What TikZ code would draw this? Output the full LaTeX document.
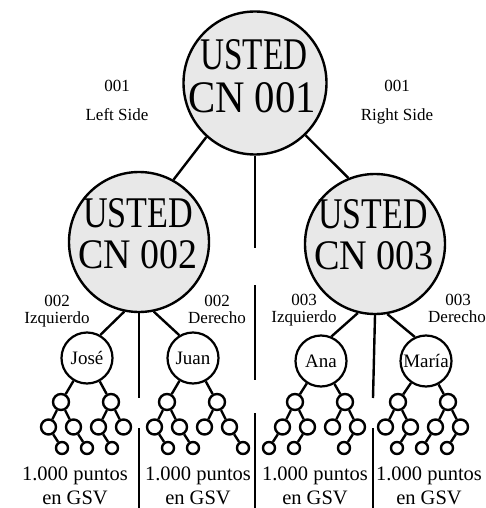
\documentclass[tikz,border=0pt]{standalone}
\usepackage{fontspec}
\setmainfont{Liberation Serif}
\usepackage{graphicx}
\newcommand\bt[3]{\resizebox{#1pt}{#2pt}{\fontsize{40}{40}\selectfont #3}}
\newcommand\treeicon[5]{%
  \node[lone] (#1-a) at ({#3-25},402) {};
  \node[lone] (#1-b) at ({#3+25},402) {};
  \node[ltwo] (#1-c1) at ({#3-37.5},427) {};
  \node[ltwo] (#1-c2) at ({#3-12.5},427) {};
  \node[ltwo] (#1-c3) at ({#3+12.5},427) {};
  \node[ltwo] (#1-c4) at ({#3+37.5},427) {};
  \draw[tconn] (#2) -- (#1-a);
  \draw[tconn] (#2) -- (#1-b);
  \draw[tconn] (#1-a) -- (#1-c1);
  \draw[tconn] (#1-a) -- (#1-c2);
  \draw[tconn] (#1-b) -- (#1-c3);
  \draw[tconn] (#1-b) -- (#1-c4);
  \foreach \k in {#5} {
    \path (#1-c\k) ++(#4,21) node[lthree] (#1-d\k) {};
    \draw[tconn] (#1-c\k) -- (#1-d\k);
  }%
}
\begin{document}
\begin{tikzpicture}[x=1pt,y=-1pt,
  big/.style={circle,draw,line width=2.4pt,fill=gray!18,minimum size=140pt,inner sep=0pt},
  person/.style={circle,draw,line width=2.2pt,fill=white,minimum size=51pt,inner sep=0pt,font=\fontsize{19}{19}\selectfont},
  lone/.style={circle,draw,line width=2.4pt,minimum size=16pt,inner sep=0pt},
  ltwo/.style={circle,draw,line width=2.4pt,minimum size=15pt,inner sep=0pt},
  lthree/.style={circle,draw,line width=2.4pt,minimum size=12pt,inner sep=0pt},
  conn/.style={line width=2.4pt},
  tconn/.style={line width=2.4pt},
  lab/.style={font=\fontsize{17}{17}\selectfont, inner sep=0pt, anchor=base},
  bigtxt/.style={inner sep=0pt, anchor=base},
  foot/.style={font=\fontsize{20.5}{20.5}\selectfont, inner sep=0pt, anchor=base}
]
\useasboundingbox (0,0) rectangle (485,508);

% main circles
\node[big,minimum size=143pt] (top) at (255,83) {};
\node[big] (n2) at (139,242) {};
\node[big] (n3) at (375,244) {};

\node[bigtxt] (t1a) at (254,70) {\bt{107}{30}{USTED}};
\node[bigtxt] (t1b) at (252,113) {\bt{128}{30}{CN 001}};
\node[bigtxt] (t2a) at (138,227) {\bt{110}{29}{USTED}};
\node[bigtxt] (t2b) at (138,268) {\bt{119}{28}{CN 002}};
\node[bigtxt] (t3a) at (373,228) {\bt{109}{29}{USTED}};
\node[bigtxt] (t3b) at (374,269) {\bt{120}{28}{CN 003}};

% connectors top level
\draw[conn] (top.228) -- (n2.61);
\draw[conn] (top.314) -- (n3.112);
\coordinate (m1) at (255,248);
\coordinate (m2) at (255,285);
\coordinate (m3) at (255,380);
\coordinate (m4) at (255,413);
\coordinate (m5) at (255,508);
\draw[conn] (top.south) -- (m1);
\draw[conn] (m2) -- (m3);
\draw[conn] (m4) -- (m5);

% labels
\node[lab] (l1a) at (117,92) {001};
\node[lab] (l1b) at (117,121) {Left Side};
\node[lab] (r1a) at (397,92) {001};
\node[lab] (r1b) at (397,121) {Right Side};
\node[lab] (l2a) at (57,306) {002};
\node[lab] (l2b) at (57,323) {Izquierdo};
\node[lab] (r2a) at (217,306) {002};
\node[lab] (r2b) at (217,323) {Derecho};
\node[lab] (l3a) at (304,305) {003};
\node[lab] (l3b) at (304,322) {Izquierdo};
\node[lab] (r3a) at (458,305) {003};
\node[lab] (r3b) at (457,322) {Derecho};

% persons
\node[person] (jose) at (87,358) {José};
\node[person] (juan) at (193,358) {Juan};
\node[person] (ana) at (321,361) {Ana};
\node[person] (maria) at (426,361) {María};

\draw[conn] (n2.258) -- (jose.60);
\draw[conn] (n2.282) -- (juan.121);
\draw[conn] (n3.256) -- (ana.67);
\draw[conn] (n3.280) -- (maria.115);

% dividers
\coordinate (d2a) at (139,398);
\coordinate (d2b) at (139,428);
\coordinate (d2c) at (139,508);
\coordinate (d3a) at (373,398);
\coordinate (d3b) at (373,428);
\coordinate (d3c) at (373,508);
\draw[conn] (n2.south) -- (d2a);
\draw[conn] (d2b) -- (d2c);
\draw[conn] (n3.south) -- (d3a);
\draw[conn] (d3b) -- (d3c);

% tree icons
\treeicon{ic1}{jose}{86}{13.5}{1,2,3}
\treeicon{ic2}{juan}{192}{13.5}{1,2,4}
\treeicon{ic3}{ana}{320}{-13.5}{1,2,4}
\treeicon{ic4}{maria}{423}{-13.5}{2,3,4}

% footers
\node[foot] (f1a) at (75,480) {1.000 puntos};
\node[foot] (f1b) at (75,504) {en GSV};
\node[foot] (f2a) at (198,480) {1.000 puntos};
\node[foot] (f2b) at (198,504) {en GSV};
\node[foot] (f3a) at (315,480) {1.000 puntos};
\node[foot] (f3b) at (315,504) {en GSV};
\node[foot] (f4a) at (429,480) {1.000 puntos};
\node[foot] (f4b) at (429,504) {en GSV};
\end{tikzpicture}
\end{document}
